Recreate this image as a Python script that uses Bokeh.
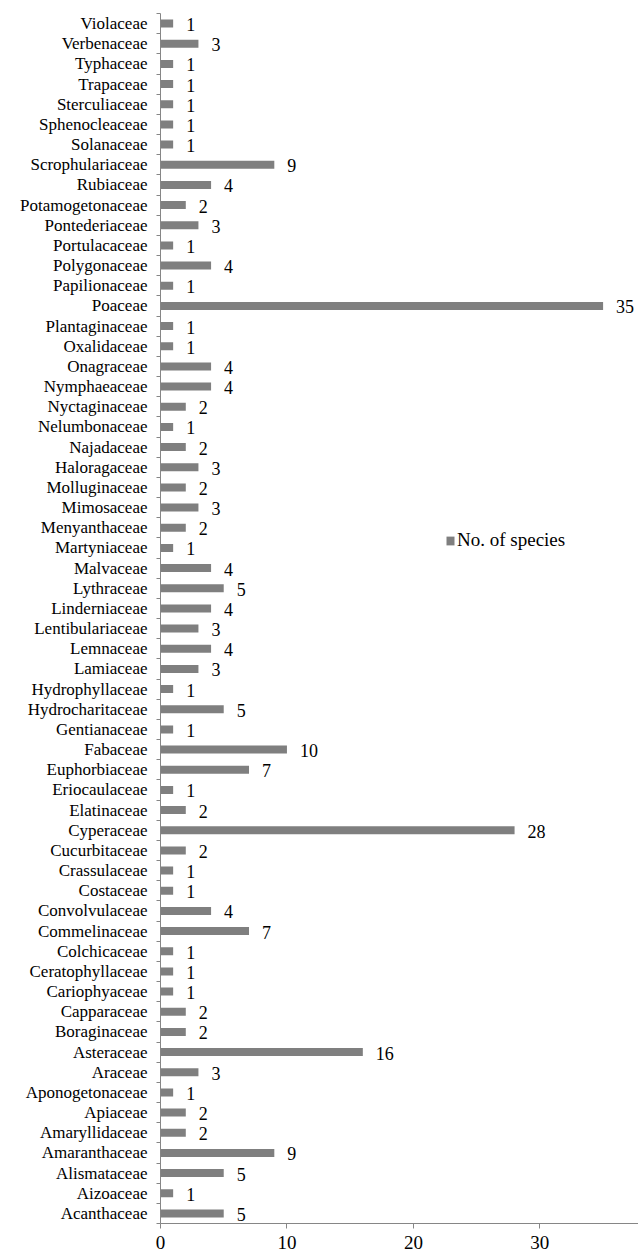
from bokeh.plotting import figure
from bokeh.models import ColumnDataSource, Range1d, FixedTicker, Legend, LegendItem
from bokeh.core.properties import value
from bokeh.embed import file_html
from bokeh.resources import INLINE

families = ["Acanthaceae", "Aizoaceae", "Alismataceae", "Amaranthaceae", "Amaryllidaceae",
            "Apiaceae", "Aponogetonaceae", "Araceae", "Asteraceae", "Boraginaceae",
            "Capparaceae", "Cariophyaceae", "Ceratophyllaceae", "Colchicaceae", "Commelinaceae",
            "Convolvulaceae", "Costaceae", "Crassulaceae", "Cucurbitaceae", "Cyperaceae",
            "Elatinaceae", "Eriocaulaceae", "Euphorbiaceae", "Fabaceae", "Gentianaceae",
            "Hydrocharitaceae", "Hydrophyllaceae", "Lamiaceae", "Lemnaceae", "Lentibulariaceae",
            "Linderniaceae", "Lythraceae", "Malvaceae", "Martyniaceae", "Menyanthaceae",
            "Mimosaceae", "Molluginaceae", "Haloragaceae", "Najadaceae", "Nelumbonaceae",
            "Nyctaginaceae", "Nymphaeaceae", "Onagraceae", "Oxalidaceae", "Plantaginaceae",
            "Poaceae", "Papilionaceae", "Polygonaceae", "Portulacaceae", "Pontederiaceae",
            "Potamogetonaceae", "Rubiaceae", "Scrophulariaceae", "Solanaceae", "Sphenocleaceae",
            "Sterculiaceae", "Trapaceae", "Typhaceae", "Verbenaceae", "Violaceae"]
species = [5, 1, 5, 9, 2,
           2, 1, 3, 16, 2,
           2, 1, 1, 1, 7,
           4, 1, 1, 2, 28,
           2, 1, 7, 10, 1,
           5, 1, 3, 4, 3,
           4, 5, 4, 1, 2,
           3, 2, 3, 2, 1,
           2, 4, 4, 1, 1,
           35, 1, 4, 1, 3,
           2, 4, 9, 1, 1,
           1, 1, 1, 3, 1]
x_ticks = [0, 10, 20, 30]
series_name = "No. of species"

n = len(families)
ypos = [i + 0.5 for i in range(n)]
src = ColumnDataSource(dict(y=ypos, v=species, lab=[str(s) for s in species]))

FONT = "Liberation Serif"
AX = "#868686"
BAR = "#7f7f7f"

p = figure(frame_width=478, frame_height=1210, output_backend="svg", toolbar_location=None,
           x_range=Range1d(0, 37.8), y_range=Range1d(0, n),
           min_border_left=160, min_border_top=13, min_border_right=0, min_border_bottom=0)
p.outline_line_color = None
p.grid.visible = False
p.background_fill_color = "white"

r = p.hbar(y="y", right="v", left=0, height=0.4, source=src, fill_color=BAR, line_color=None)
p.text(x="v", y="y", text="lab", source=src, x_offset=13, y_offset=1,
       text_align="left", text_baseline="middle", text_font=value(FONT),
       text_font_size="18px", text_color="#000000")

# x axis
xa = p.xaxis[0]
xa.ticker = FixedTicker(ticks=x_ticks)
xa.axis_line_color = AX
xa.major_tick_line_color = AX
xa.major_tick_out = 5
xa.major_tick_in = 0
xa.minor_tick_line_color = None
xa.major_label_standoff = 7
xa.major_label_text_font = FONT
xa.major_label_text_font_size = "19px"
xa.major_label_text_color = "#000000"

# y axis: labels at bar centres, small ticks at category boundaries
ya = p.yaxis[0]
ya.ticker = FixedTicker(ticks=ypos, minor_ticks=list(range(n + 1)))
ya.major_label_overrides = {y: f for y, f in zip(ypos, families)}
ya.axis_line_color = AX
ya.major_tick_line_color = None
ya.major_tick_out = 0
ya.major_tick_in = 0
ya.minor_tick_line_color = AX
ya.minor_tick_out = 4
ya.minor_tick_in = 0
ya.major_label_standoff = 9
ya.major_label_text_font = FONT
ya.major_label_text_font_size = "17px"
ya.major_label_text_color = "#000000"

legend = Legend(items=[LegendItem(label=series_name, renderers=[r])],
                location=(285, 672), border_line_color=None, background_fill_alpha=0,
                padding=0, margin=0, glyph_width=10, glyph_height=11, label_standoff=2,
                label_text_font=FONT, label_text_font_size="19px", label_text_color="#000000")
p.add_layout(legend, "center")

open("out.html", "w").write(file_html(p, INLINE))
